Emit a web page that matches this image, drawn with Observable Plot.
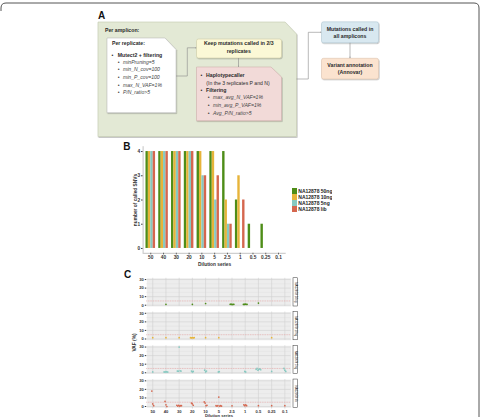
<!DOCTYPE html>
<html><head><meta charset="utf-8">
<script src="https://cdn.jsdelivr.net/npm/d3@7"></script>
<script src="https://cdn.jsdelivr.net/npm/@observablehq/plot@0.6"></script>
<style>
body{margin:0;background:#fff;}
#root{position:relative;width:481px;height:417px;overflow:hidden;font-family:"Liberation Sans",Arial,sans-serif;}
#root > svg, #root > div{position:absolute;}
.lgB-swatches{margin:0 !important;font-family:"Liberation Sans",Arial,sans-serif !important;font-size:5px !important;font-weight:bold;line-height:6px;color:#222;}
.lgB-swatch{padding-bottom:0 !important;height:6px;}
.lgB-swatch > svg{margin-right:1px !important;}
</style></head><body><div id="root">
<svg id="deco" width="481" height="417" style="left:0;top:0" font-family="Liberation Sans, Arial, sans-serif" fill="#2a2a2a">
<defs>
<marker id="ah" viewBox="0 0 6 6" refX="5.6" refY="3" markerWidth="3.2" markerHeight="3.2" orient="auto"><path d="M0.5,0.6 L5.6,3 L0.5,5.4" fill="none" stroke="#8a8a8a" stroke-width="1"/></marker>
<filter id="sh" x="-10%" y="-10%" width="125%" height="130%"><feDropShadow dx="0.6" dy="0.9" stdDeviation="0.5" flood-color="#000" flood-opacity="0.3"/></filter>
</defs>
<path d="M1,11 V8 Q1,3 6,3 H474 Q479,3 479,8 V417" fill="none" stroke="#555" stroke-width="1"/>
<text x="98" y="19" font-size="10" font-weight="bold" fill="#111">A</text>
<text x="123.3" y="150" font-size="10" font-weight="bold" fill="#111">B</text>
<text x="124" y="278.3" font-size="10" font-weight="bold" fill="#111">C</text>
<text transform="translate(136.2,342.5) rotate(-90)" text-anchor="middle" font-size="4.8" font-weight="bold" fill="#333">VAF (%)</text>

<path d="M98,22 H285 L296.5,34 V136.5 H98 Z" fill="#e3e9d5" stroke="#c2caae" stroke-width="0.6" filter="url(#sh)"/>
<text x="105" y="31.5" font-size="5.2" font-weight="bold">Per amplicon:</text>

<path d="M107,38 H165 L176,49.5 V112.7 H107 Z" fill="#ffffff" stroke="#b0b0b0" stroke-width="0.5" filter="url(#sh)"/>
<text x="112" y="45.2" font-size="5.2" font-weight="bold">Per replicate:</text>
<text x="111.6" y="56.5" font-size="5.2">•</text>
<text x="117.7" y="56.5" font-size="5.2" font-weight="bold">Mutect2 + filtering</text>
<g font-size="5.1" font-style="italic" fill="#444">
<text x="117.8" y="63.8" font-style="normal">•</text><text x="123" y="63.8">minPruning=5</text>
<text x="117.8" y="71.4" font-style="normal">•</text><text x="123" y="71.4">min_N_cov=100</text>
<text x="117.8" y="78.9" font-style="normal">•</text><text x="123" y="78.9">min_P_cov=100</text>
<text x="117.8" y="86.5" font-style="normal">•</text><text x="123" y="86.5">max_N_VAF=1%</text>
<text x="117.8" y="94" font-style="normal">•</text><text x="123" y="94">P/N_ratio&gt;5</text>
</g>

<rect x="196.5" y="39" width="85" height="19" rx="2" fill="#fbf8d6" stroke="#c9c6a0" stroke-width="0.5" filter="url(#sh)"/>
<text x="238.8" y="44.9" font-size="5.2" font-weight="bold" text-anchor="middle">Keep mutations called in 2/3</text>
<text x="238.8" y="52.5" font-size="5.2" font-weight="bold" text-anchor="middle">replicates</text>

<path d="M196.5,67 H271 L281.5,77 V120.7 H196.5 Z" fill="#f2dad8" stroke="#caa9a6" stroke-width="0.5" filter="url(#sh)"/>
<text x="200.6" y="77.2" font-size="5.2">•</text>
<text x="206" y="77.2" font-size="5.2" font-weight="bold">Haplotypecaller</text>
<text x="206.3" y="84.6" font-size="5.1">(In the 3 replicates P and N)</text>
<text x="200.6" y="91.9" font-size="5.2">•</text>
<text x="206" y="91.9" font-size="5.2" font-weight="bold">Filtering</text>
<g font-size="5.1" font-style="italic" fill="#444">
<text x="207.7" y="99.2" font-style="normal">•</text><text x="213" y="99.2">max_avg_N_VAF=1%</text>
<text x="207.7" y="106.8" font-style="normal">•</text><text x="213" y="106.8">min_avg_P_VAF=1%</text>
<text x="207.7" y="114.5" font-style="normal">•</text><text x="213" y="114.5">Avg_P/N_ratio&gt;5</text>
</g>

<rect x="321.5" y="21.8" width="57" height="21" rx="2" fill="#d8e8f0" stroke="#a8c3cf" stroke-width="0.5" filter="url(#sh)"/>
<text x="350" y="30.5" font-size="5.2" font-weight="bold" text-anchor="middle">Mutations called in</text>
<text x="350" y="38.2" font-size="5.2" font-weight="bold" text-anchor="middle">all amplicons</text>
<rect x="321.5" y="58.3" width="57" height="20.7" rx="2" fill="#fbe3cf" stroke="#d8bda6" stroke-width="0.5" filter="url(#sh)"/>
<text x="350" y="66.5" font-size="5.2" font-weight="bold" text-anchor="middle">Variant annotation</text>
<text x="350" y="73.9" font-size="5.2" font-weight="bold" text-anchor="middle">(Annovar)</text>

<g fill="none" stroke="#8a8a8a" stroke-width="0.6">
<path d="M176,76 H187.3 V47.8 H196.3" marker-end="url(#ah)"/>
<path d="M238.5,58 V66.8" marker-end="url(#ah)"/>
<path d="M296.5,79 H308.3 V32.3 H321.3" marker-end="url(#ah)"/>
<path d="M350,42.8 V58.1" marker-end="url(#ah)"/>
</g>
</svg>
</div>
<script>
// ---------- data ----------
const dilutions = ["50","40","30","20","10","5","2.5","1","0.5","0.25","0.1"];
const samples = ["NA12878 50ng","NA12878 10ng","NA12878 5ng","NA12878 lib"];
const sampleColors = ["#4e8d18","#e7b43a","#86c9c1","#d5674f"];

// Panel B: number of called SNVs per dilution
const snv50ng = [4,4,4,4,4,4,4,2,1,1,0];
const snv10ng = [4,4,4,4,4,4,2,3,0,0,0];
const snv5ng  = [4,4,4,4,3,2,1,0,0,0,0];
const snvLib  = [4,4,4,4,3,3,1,2,0,0,0];

// Panel C: VAF (%) of called variants  [dilution, VAF]
const vaf50ng = [["40",1],["20",1],["10",2],
  ["2.5",1],["2.5",1.2],["2.5",0.8],["2.5",1],["2.5",1.1],
  ["1",1],["1",0.9],["1",1.2],["1",1],["1",1.1],["0.5",2.5]];
const vaf10ng = [["50",1.5],["40",1.5],["30",1.5],
  ["20",1.5],["20",1.3],["20",1.6],["20",1.4],["20",1.5],
  ["10",1.5],["5",1.5],["0.25",1.5]];
const vaf5ng = [["50",1],["40",1],["40",0.8],["40",1.2],["40",1],["40",0.9],
  ["30",2],["30",1.8],["30",30],["30",2.2],["30",2],
  ["20",2],["20",1],["20",1.5],["10",3],["10",1],["10",2],["5",1],["5",1.2],
  ["1",1.5],["1",1],["0.5",4],["0.5",5],["0.5",3],["0.5",4],["0.5",4.5],["0.5",3.5],
  ["0.25",1.5],["0.1",5],["0.1",3],["0.1",1.5]];
const vafLib = [["50",18],["50",3],["50",1],["40",6],["40",2],["40",0],
  ["30",1.5],["30",0.5],["30",1.5],["30",0.5],["30",1],["30",1],
  ["20",4],["20",3],["20",1.5],["10",5.4],["10",4],["10",1],["10",1.5],
  ["5",1],["5",0.5],["5",1],["5",11],["5",0.5],["5",1],["5",0.5],
  ["2.5",0.8],["1",2],["1",1],["1",2],["1",1],["0.5",1],["0.25",1],["0.1",1]];
const vafThreshold = [5];
const vafTicks = [0,10,20,30];
const vafMinor = [5,15,25];

// ---------- build tables ----------
const snvCounts = [snv50ng, snv10ng, snv5ng, snvLib];
const barRows = samples.flatMap((s,k) => dilutions.map((dil,i) => ({sample:s, k, i, dil, n:snvCounts[k][i]})));
const groupW = 0.75, bw = groupW / samples.length;

const vafLists = [vaf50ng, vaf10ng, vaf5ng, vafLib];
const vafRows = [];
vafLists.forEach((list, k) => {
  const counts = d3.rollup(list, v => v.length, d => d[0]);
  const seen = new Map();
  for (const [dil, vaf] of list) {
    const j = seen.get(dil) ?? 0; seen.set(dil, j + 1);
    const n = counts.get(dil);
    vafRows.push({sample: samples[k], i: dilutions.indexOf(dil), off: (j - (n - 1) / 2) * 0.07, vaf});
  }
});

const root = document.getElementById("root");
const font = "Liberation Sans, Arial, sans-serif";
const idx = d3.range(dilutions.length);

// ---------- Panel B ----------
const plotB = Plot.plot({
  width: 200, height: 128,
  marginLeft: 42.6, marginRight: 14.3, marginTop: 6.2, marginBottom: 15.2,
  style: {fontFamily: font, fontSize: "4.8px", fontWeight: "bold", color: "#333", background: "transparent", overflow: "visible"},
  x: {domain: [-0.6, dilutions.length - 0.4], ticks: idx, tickFormat: i => dilutions[i], tickSize: 1.5, tickPadding: 1,
      label: "Dilution series", labelAnchor: "center", labelOffset: 12.3, labelArrow: "none"},
  y: {domain: [-0.2, 4.2], ticks: [0,1,2,3,4], tickFormat: d => String(d), tickSize: 1.5, tickPadding: 1.5,
      label: "number of called SNVs", labelAnchor: "center", labelOffset: 9.6, labelArrow: "none"},
  color: {domain: samples, range: sampleColors},
  marks: [
    Plot.rectY(barRows, {x1: d => d.i - groupW/2 + d.k*bw, x2: d => d.i - groupW/2 + (d.k+1)*bw, y1: 0, y2: "n", fill: "sample"}),
    Plot.ruleX([-0.6], {stroke: "#9a9a9a", strokeWidth: 0.6}),
    Plot.ruleY([-0.2], {stroke: "#9a9a9a", strokeWidth: 0.6})
  ]
});
plotB.style.left = "100px"; plotB.style.top = "140px"; plotB.style.position = "absolute";
root.appendChild(plotB);

const legB = Plot.legend({color: {domain: samples, range: sampleColors}, legend: "swatches", columns: 1,
  swatchWidth: 5, swatchHeight: 6, className: "lgB"});
legB.style.position = "absolute"; legB.style.left = "292.3px"; legB.style.top = "187.7px";
root.appendChild(legB);

// ---------- Panel C ----------
const cDomain = [-0.45, 10.48];
const cFrameW = 200 - 46.3 - 9.3;
const pxPerUnit = cFrameW / (cDomain[1] - cDomain[0]);
const stripX1 = cDomain[1] + 2.3 / pxPerUnit, stripX2 = cDomain[1] + 7 / pxPerUnit;
const colorOf = new Map(samples.map((s,k) => [s, sampleColors[k]]));

const plotC = Plot.plot({
  width: 200, height: 145,
  marginLeft: 46.3, marginRight: 9.3, marginTop: 5.75, marginBottom: 9.7,
  style: {fontFamily: font, fontSize: "4.1px", fontWeight: "bold", color: "#333", background: "transparent", overflow: "visible"},
  x: {domain: cDomain, ticks: idx, tickFormat: i => dilutions[i], tickSize: 0.8, tickPadding: 1,
      label: "Dilution series", labelAnchor: "center", labelOffset: 8.7, labelArrow: "none"},
  y: {domain: [-1.5, 31.5], ticks: vafTicks, tickFormat: d => String(d), tickSize: 1.5, tickPadding: 1.5, label: null},
  fy: {domain: samples, paddingInner: 0.163, paddingOuter: 0, axis: null, round: false},
  marks: [
    Plot.frame({fill: "#ededed"}),
    Plot.ruleY(vafMinor, {stroke: "#dddddd", strokeWidth: 0.4}),
    Plot.ruleY(vafTicks, {stroke: "#d0d0d0", strokeWidth: 0.6}),
    Plot.ruleX(idx, {stroke: "#d0d0d0", strokeWidth: 0.6}),
    Plot.ruleY(vafThreshold, {stroke: "#eb8f8f", strokeWidth: 0.55, strokeDasharray: "0.8,0.9"}),
    Plot.dot(vafRows, {x: d => d.i + d.off, y: "vaf", fy: "sample", fill: d => colorOf.get(d.sample), r: 0.85}),
    Plot.rect(samples, {fy: d => d, x1: () => stripX1, x2: () => stripX2, fill: "#fff", stroke: "#333", strokeWidth: 0.5}),
    Plot.text(samples, {fy: d => d, x: () => (stripX1 + stripX2) / 2, text: d => d, rotate: 90, fontSize: 3, fontWeight: "normal", fill: "#222", frameAnchor: "middle"})
  ]
});
plotC.style.left = "100px"; plotC.style.top = "272px"; plotC.style.position = "absolute";
root.appendChild(plotC);
</script>
</body></html>
